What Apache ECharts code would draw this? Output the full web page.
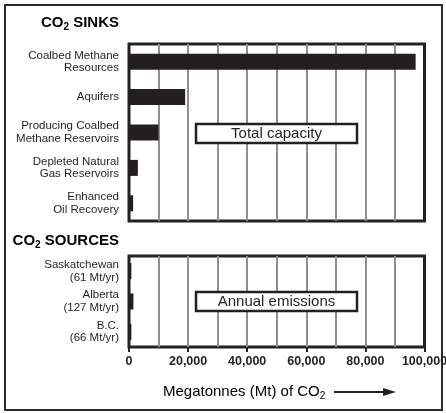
<!DOCTYPE html>
<html>
<head>
<meta charset="utf-8">
<script src="https://cdn.jsdelivr.net/npm/echarts@6/dist/echarts.min.js"></script>
<style>
html,body{margin:0;padding:0;background:#fff;}
#chart{width:446px;height:413px;}
</style>
</head>
<body>
<div id="chart"></div>
<script>
// ---- data ----
var sinkCategories = ['Coalbed Methane\nResources', 'Aquifers', 'Producing Coalbed\nMethane Reservoirs', 'Depleted Natural\nGas Reservoirs', 'Enhanced\nOil Recovery'];
var sinkValues = [97000, 19000, 10000, 3000, 1400];
var sourceCategories = ['Saskatchewan\n(61 Mt/yr)', 'Alberta\n(127 Mt/yr)', 'B.C.\n(66 Mt/yr)'];
var sourceValues = [800, 1500, 800];
var xTickValues = [0, 20000, 40000, 60000, 80000, 100000];
var xTickLabels = ['0', '20,000', '40,000', '60,000', '80,000', '100,000'];

var FONT = 'Arial, "Liberation Sans", Helvetica, sans-serif';
var INK = '#231f20';
var GRIDC = '#8f8f8f';

var chart = echarts.init(document.getElementById('chart'), null, {renderer: 'canvas'});

function gridAxis(gi) {
  return {
    type: 'value', gridIndex: gi, min: 0, max: 100000, interval: 10000,
    axisLine: {show: false}, axisTick: {show: false}, axisLabel: {show: false},
    splitLine: {show: true, showMinLine: false, showMaxLine: false, lineStyle: {color: GRIDC, width: 2}}
  };
}
function catAxis(gi, data) {
  return {
    type: 'category', gridIndex: gi, data: data, inverse: true,
    axisLine: {show: false}, axisTick: {show: false}, splitLine: {show: false},
    axisLabel: {color: INK, fontFamily: FONT, fontSize: 11.5, lineHeight: 12.5, margin: 10, align: 'right'}
  };
}
var subRich = {
  a: {fontFamily: FONT, fontSize: 15, fontWeight: 'bold', color: INK, lineHeight: 18, verticalAlign: 'middle'},
  s: {fontFamily: FONT, fontSize: 10, fontWeight: 'bold', color: INK, lineHeight: 12, verticalAlign: 'bottom'}
};
var subRichN = {
  a: {fontFamily: FONT, fontSize: 15, color: INK, lineHeight: 18, verticalAlign: 'middle'},
  s: {fontFamily: FONT, fontSize: 10, color: INK, lineHeight: 12, verticalAlign: 'bottom'}
};

var option = {
  backgroundColor: '#fff',
  animation: false,
  grid: [
    {left: 129, top: 44, width: 295.5, height: 177, show: true, borderColor: '#222', borderWidth: 3, backgroundColor: '#fff', outerBoundsMode: 'none', containLabel: false},
    {left: 129, top: 256, width: 295.5, height: 91, show: true, borderColor: '#222', borderWidth: 3, backgroundColor: '#fff', outerBoundsMode: 'none', containLabel: false}
  ],
  xAxis: [
    gridAxis(0),
    gridAxis(1),
    {
      type: 'value', gridIndex: 1, min: 0, max: 100000, interval: 20000, position: 'bottom',
      axisLine: {show: false},
      axisTick: {show: true, length: 5, lineStyle: {color: '#222', width: 2}},
      splitLine: {show: false},
      axisLabel: {
        show: true, margin: 8, color: INK, fontFamily: FONT, fontSize: 12.5, fontWeight: 'bold',
        hideOverlap: false,
        formatter: function (v) { var i = xTickValues.indexOf(v); return i >= 0 ? xTickLabels[i] : ''; }
      }
    }
  ],
  yAxis: [catAxis(0, sinkCategories), catAxis(1, sourceCategories)],
  series: [
    {type: 'bar', xAxisIndex: 0, yAxisIndex: 0, data: sinkValues, barWidth: 16, itemStyle: {color: INK}, z: 3},
    {type: 'bar', xAxisIndex: 1, yAxisIndex: 1, data: sourceValues, barWidth: 16, itemStyle: {color: INK}, z: 3}
  ],
  graphic: [
    {type: 'rect', z: 0, silent: true, shape: {x: 5, y: 5, width: 437, height: 405}, style: {fill: null, stroke: '#2b2b2b', lineWidth: 2}},
    {type: 'text', z: 100, x: 119, y: 23, style: {text: '{a|CO}{s|2}{a| SINKS}', rich: subRich, align: 'right', verticalAlign: 'middle'}},
    {type: 'text', z: 100, x: 119, y: 241, style: {text: '{a|CO}{s|2}{a| SOURCES}', rich: subRich, align: 'right', verticalAlign: 'middle'}},
    {type: 'rect', z: 100, shape: {x: 196, y: 124, width: 161, height: 19}, style: {fill: '#fff', stroke: '#222', lineWidth: 2.5}},
    {type: 'text', z: 101, x: 276.5, y: 134, style: {text: 'Total capacity', fontFamily: FONT, fontSize: 15, fill: INK, align: 'center', verticalAlign: 'middle'}},
    {type: 'rect', z: 100, shape: {x: 196, y: 292, width: 161, height: 19}, style: {fill: '#fff', stroke: '#222', lineWidth: 2.5}},
    {type: 'text', z: 101, x: 276.5, y: 302, style: {text: 'Annual emissions', fontFamily: FONT, fontSize: 15, fill: INK, align: 'center', verticalAlign: 'middle'}},
    {type: 'text', z: 100, x: 163, y: 392, style: {text: '{a|Megatonnes (Mt) of CO}{s|2}', rich: subRichN, align: 'left', verticalAlign: 'middle'}},
    {type: 'line', z: 100, shape: {x1: 334, y1: 392, x2: 388, y2: 392}, style: {stroke: INK, lineWidth: 2}},
    {type: 'polygon', z: 100, shape: {points: [[383, 388], [396, 392], [383, 396]]}, style: {fill: INK}}
  ]
};
chart.setOption(option);
</script>
</body>
</html>
